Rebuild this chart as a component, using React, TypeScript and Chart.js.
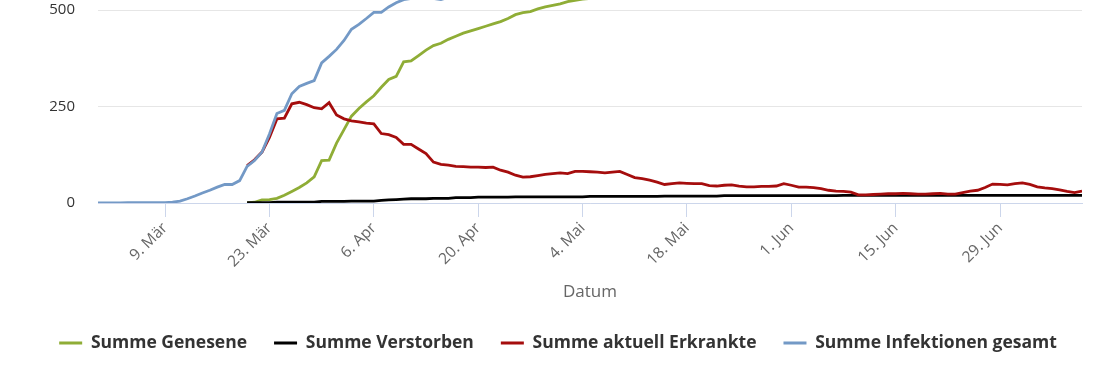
import React, { useEffect, useRef } from 'react';
import { Chart, registerables } from 'chart.js';

Chart.register(...registerables);

// Day index 0 = 29. Feb 2020, last index 132 = 10. Jul 2020
const TICK_DAYS = [9, 23, 37, 51, 65, 79, 93, 107, 121];
const TICK_LABELS = ['9. Mär', '23. Mär', '6. Apr', '20. Apr', '4. Mai', '18. Mai', '1. Jun', '15. Jun', '29. Jun'];
const Y_TICKS = [0, 250, 500];

const N20 = [null, null, null, null, null, null, null, null, null, null, null, null, null, null, null, null, null, null, null, null];

const GENESENE: (number | null)[] = [
  ...N20,
  0, 2, 8, 9, 12, 20, 30, 40, 52, 68,
  110, 111, 155, 190, 225, 245, 262, 278, 300, 320,
  328, 366, 368, 382, 396, 408, 414, 424, 432, 440,
  446, 452, 458, 464, 470, 478, 488, 493, 496, 503,
  508, 512, 516, 522, 525, 528,
  530, 532, 535, 536, 537, 542, 552, 555, 560, 565,
  571, 572, 573, 574, 575, 576, 580, 581, 582, 583,
  584, 585, 586, 587, 588, 589, 590, 591, 592, 593,
  595, 597, 600, 602, 603, 605, 611, 612, 612, 612,
  613, 613, 614, 614, 615, 615, 616, 616, 617, 617,
  618, 618, 619, 619, 620, 620, 621, 621, 622, 623,
  624, 625, 626, 627, 628, 629, 630,
];

const VERSTORBEN: (number | null)[] = [
  ...N20,
  1, 1, 1, 1, 2, 2, 2, 2, 2, 2,
  4, 4, 4, 4, 5, 5, 5, 5, 7, 8,
  9, 10, 11, 11, 11, 12, 12, 12, 14, 14,
  14, 15, 15, 15, 15, 15, 16, 16, 16, 16,
  16, 16, 16, 16, 16, 16, 17, 17, 17, 17,
  17, 17, 17, 17, 17, 17, 18, 18, 18, 18,
  18, 18, 18, 18, 19, 19, 19, 19, 19, 19,
  19, 19, 19, 19, 19, 19, 19, 19, 19, 19,
  20, 20, 20, 20, 20, 20, 20, 20, 20, 20,
  20, 20, 20, 20, 20, 20, 20, 20, 20, 20,
  20, 20, 20, 20, 20, 20, 20, 20, 20, 20,
  20, 20, 20,
];

const ERKRANKTE: (number | null)[] = [
  ...N20,
  97, 112, 132, 170, 218, 220, 257, 261, 255, 247,
  244, 260, 228, 218, 213, 210, 207, 205, 180, 177,
  170, 152, 152, 140, 128, 106, 100, 98, 95, 94,
  93, 93, 92, 93, 85, 80, 72, 67, 68, 71,
  74, 76, 78, 76, 82, 82, 81, 80, 78, 80,
  82, 74, 66, 63, 59, 54, 48, 50, 52, 51,
  50, 50, 45, 44, 46, 47, 44, 42, 42, 43,
  43, 44, 50, 46, 41, 41, 40, 37, 33, 31,
  30, 28, 21, 21, 22, 23, 24, 24, 25, 24,
  23, 23, 24, 25, 23, 23, 27, 31, 33, 40,
  49, 48, 47, 50, 52, 48, 42, 39, 37, 34,
  30, 27, 31,
];

const INFEKTIONEN: (number | null)[] = [
  0, 0, 0, 0, 1, 1, 1, 1, 1, 1,
  2, 5, 11, 18, 26, 33, 41, 48, 48, 58,
  95, 110, 132, 179, 232, 240, 283, 302, 310, 317,
  363, 380, 398, 421, 450, 463, 478, 494, 494, 508,
  519, 527, 530, 530, 531, 530, 527, 533, 541, 549,
  553, 560, 565, 572, 573, 573, 576, 577, 580, 590,
  598, 604, 610, 614, 623, 626,
  627, 628, 630, 631, 633, 634, 635, 636, 637, 637,
  638, 639, 640, 640, 641, 641, 642, 642, 643, 643,
  643, 644, 644, 644, 645, 645, 645, 646, 646, 646,
  646, 647, 647, 647, 647, 648, 648, 648, 648, 648,
  649, 649, 649, 649, 650, 650, 650, 650, 651, 652,
  653, 655, 657, 660, 661, 662, 663, 664, 665, 665,
  666, 666, 667, 667, 668, 668, 669,
];

const LABELS = ['Summe Genesene', 'Summe Verstorben', 'Summe aktuell Erkrankte', 'Summe Infektionen gesamt'];
const COLORS = ['#8fad36', '#000000', '#a50d0d', '#7399c6'];

const toPoints = (arr: (number | null)[]) => arr.map((y, x) => ({ x, y }));

export default function App() {
  const ref = useRef<HTMLCanvasElement>(null);

  useEffect(() => {
    if (!ref.current) return;
    Chart.defaults.font.family = "'Open Sans', sans-serif";
    const series = [GENESENE, VERSTORBEN, ERKRANKTE, INFEKTIONEN];
    const chart = new Chart(ref.current, {
      type: 'line',
      data: {
        datasets: series.map((s, i) => ({
          label: LABELS[i],
          data: toPoints(s),
          borderColor: COLORS[i],
          backgroundColor: COLORS[i],
          borderWidth: 2.8,
          pointRadius: 0,
          pointHoverRadius: 0,
          tension: 0,
          fill: false,
          order: 4 - i,
        })),
      },
      options: {
        animation: false,
        responsive: true,
        maintainAspectRatio: false,
        layout: { padding: { left: 6, right: 0, top: 0, bottom: 8.25 } },
        plugins: {
          tooltip: { enabled: false },
          legend: {
            position: 'bottom',
            align: 'center',
            labels: {
              boxWidth: 23,
              boxHeight: 3,
              padding: 27,
              color: '#333333',
              font: { size: 17.5, weight: 'bold' },
              generateLabels: (c: any) =>
                c.data.datasets.map((ds: any, i: number) => ({
                  text: ds.label,
                  fillStyle: ds.borderColor,
                  strokeStyle: ds.borderColor,
                  lineWidth: 0,
                  hidden: false,
                  datasetIndex: i,
                  fontColor: '#333333',
                })),
            },
          },
        },
        scales: {
          x: {
            type: 'linear',
            min: 0,
            max: 132,
            afterBuildTicks: (s: any) => {
              s.ticks = TICK_DAYS.map((v) => ({ value: v }));
            },
            afterFit: (s: any) => {
              s.height = 104.25;
              s.paddingLeft = 0;
              s.paddingRight = 0;
            },
            ticks: {
              autoSkip: false,
              minRotation: 45,
              maxRotation: 45,
              padding: 2,
              color: '#666666',
              font: { size: 15.5 },
              callback: (_v: any, i: number) => TICK_LABELS[i],
            },
            grid: { drawOnChartArea: false, drawTicks: true, tickLength: 14, color: '#ccd6eb' },
            border: { display: true, color: '#ccd6eb', width: 1 },
            title: {
              display: true,
              text: 'Datum',
              color: '#666666',
              font: { size: 17 },
              padding: { top: 0, bottom: 5 },
            },
          },
          y: {
            min: 0,
            max: 526,
            afterBuildTicks: (s: any) => {
              s.ticks = Y_TICKS.map((v) => ({ value: v }));
            },
            afterFit: (s: any) => {
              s.width = 92;
              s.paddingTop = 0;
              s.paddingBottom = 0;
            },
            ticks: { padding: 23, color: '#333333', font: { size: 15 } },
            grid: { color: '#e6e6e6', drawTicks: false, lineWidth: 1 },
            border: { display: false },
          },
          y2: {
            position: 'right',
            display: true,
            afterFit: (s: any) => {
              s.width = 28;
              s.paddingTop = 0;
              s.paddingBottom = 0;
            },
            ticks: { display: false },
            grid: { display: false },
            border: { display: false },
          },
        },
      } as any,
    });
    return () => chart.destroy();
  }, []);

  return (
    <div style={{ position: 'fixed', left: 0, top: 0, width: 1110, height: 370, background: '#ffffff' }}>
      <canvas ref={ref} />
    </div>
  );
}
